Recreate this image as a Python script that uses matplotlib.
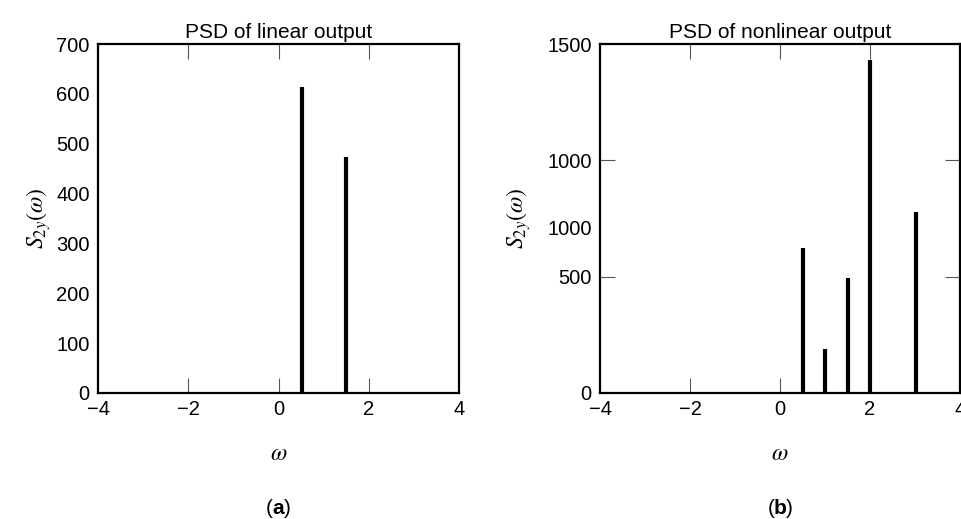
import matplotlib
matplotlib.use("Agg")
import matplotlib.pyplot as plt

plt.rcParams['font.family'] = ['Liberation Sans', 'DejaVu Sans']
plt.rcParams['mathtext.fontset'] = 'stix'

# Panel (a): PSD of linear output
lin_freq = [0.53, 1.50]
lin_psd = [614, 473]

# Panel (b): PSD of nonlinear output
nl_freq = [0.52, 1.01, 1.52, 2.0, 3.02]
nl_psd = [622, 189, 493, 1431, 776]

x_ticks = [-4, -2, 0, 2, 4]
x_ticklabels = ['\u22124', '\u22122', '0', '2', '4']
lin_yticks = [0, 100, 200, 300, 400, 500, 600, 700]
nl_yticks = [0, 500, 713, 1000, 1500]
nl_yticklabels = ['0', '500', '1000', '1000', '1500']

W, H = 962, 519
fig = plt.figure(figsize=(W / 100, H / 100), dpi=100)

def make_ax(x0, x1, y0, y1):
    return fig.add_axes([x0 / W, 1 - y1 / H, (x1 - x0) / W, (y1 - y0) / H])

ax1 = make_ax(98, 459, 44, 393)
ax2 = make_ax(600, 960, 44, 393)

def style(ax, title, ylim, ylabel_x):
    ax.set_xlim(-4, 4)
    ax.set_ylim(*ylim)
    for s in ax.spines.values():
        s.set_linewidth(1.6)
        s.set_color('black')
    ax.tick_params(axis='both', direction='in', top=True, right=True,
                   length=11, width=0.8, color='#555555', labelsize=14.5)
    ax.tick_params(axis='x', pad=5)
    ax.tick_params(axis='y', pad=6)
    ax.set_xticks(x_ticks)
    ax.set_xticklabels(x_ticklabels)
    ax.set_title(title, fontsize=15, pad=4)
    ax.set_xlabel(r'$\omega$', fontsize=17, labelpad=17)
    ax.set_ylabel(r'$S_{2y}(\omega)$', fontsize=17)
    ax.yaxis.set_label_coords(ylabel_x, 0.5)
    for t in ax.xaxis.get_major_ticks():
        if t.get_loc() in (-4, 4):
            t.tick1line.set_visible(False)
            t.tick2line.set_visible(False)

style(ax1, 'PSD of linear output', (0, 700), (53 - 98) / 361)
ax1.set_yticks(lin_yticks)
for t in ax1.yaxis.get_major_ticks():
    if t.get_loc() in (0, 700):
        t.tick1line.set_visible(False)
        t.tick2line.set_visible(False)
ax1.vlines(lin_freq, 0, lin_psd, color='black', linewidth=3)

style(ax2, 'PSD of nonlinear output', (0, 1500), (533 - 600) / 360)
ax2.set_yticks(nl_yticks)
ax2.set_yticklabels(nl_yticklabels)
for t in ax2.yaxis.get_major_ticks():
    if t.get_loc() in (0, 713, 1500):
        t.tick1line.set_visible(False)
        t.tick2line.set_visible(False)
ax2.vlines(nl_freq, 0, nl_psd, color='black', linewidth=3)

for xc, letter in [(278, 'a'), (780, 'b')]:
    y = 1 - 508 / H
    fig.text(xc / W, y, letter, ha='center', va='center', fontsize=15, fontweight='bold')
    fig.text((xc - 5.5) / W, y, '(', ha='right', va='center', fontsize=15)
    fig.text((xc + 5.5) / W, y, ')', ha='left', va='center', fontsize=15)

fig.savefig('out.png', dpi=100)
